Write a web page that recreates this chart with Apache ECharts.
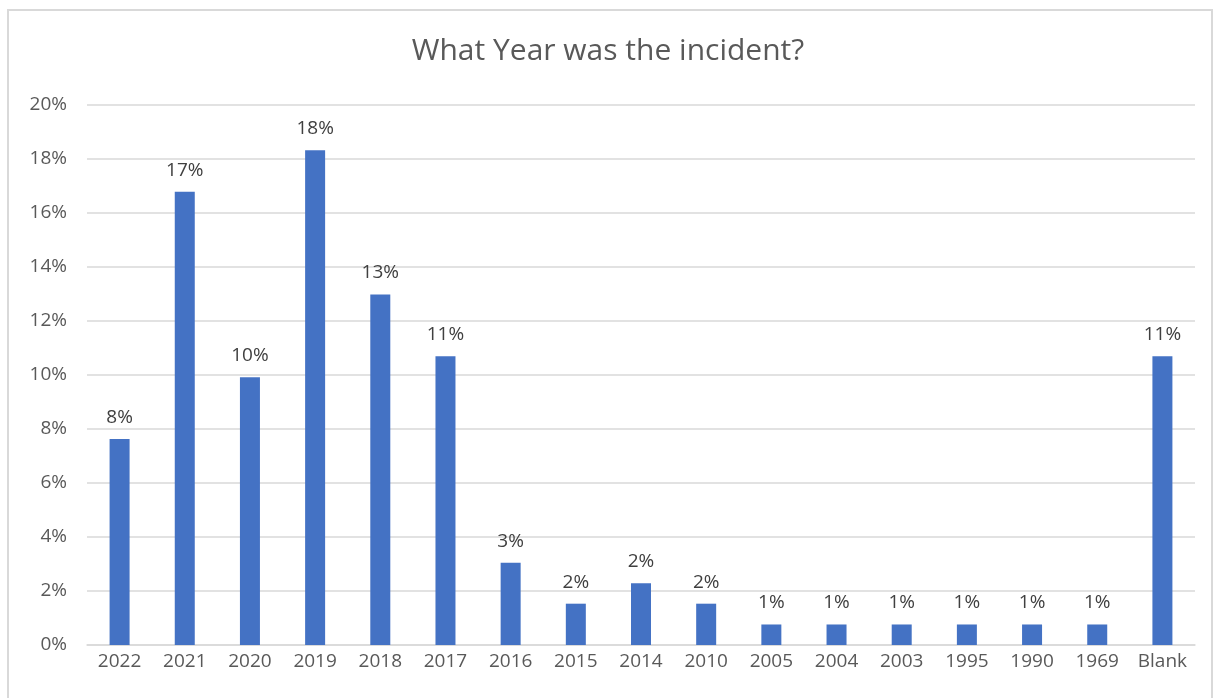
<!DOCTYPE html>
<html>
<head>
<meta charset="utf-8">
<script src="https://cdn.jsdelivr.net/npm/echarts@6/dist/echarts.min.js"></script>
<style>
html,body{margin:0;padding:0;background:#fff;}
#frame{position:absolute;left:7px;top:9px;width:1206px;height:700px;border:2px solid #d9d9d9;box-sizing:border-box;}
#chart{position:absolute;left:0;top:0;width:1216px;height:698px;}
</style>
</head>
<body>
<div id="frame"></div>
<div id="chart"></div>
<script>
const title = "What Year was the incident?";
const categories = ["2022","2021","2020","2019","2018","2017","2016","2015","2014","2010","2005","2004","2003","1995","1990","1969","Blank"];
const percentValues = [7.63, 16.79, 9.92, 18.32, 12.98, 10.69, 3.05, 1.53, 2.29, 1.53, 0.76, 0.76, 0.76, 0.76, 0.76, 0.76, 10.69];

const chart = echarts.init(document.getElementById('chart'), null, {renderer:'canvas'});
const font = "'Open Sans', 'Noto Sans', sans-serif";
chart.setOption({
  animation:false,
  backgroundColor:'transparent',
  title:{
    text:title, left:'center', top:31,
    textStyle:{fontFamily:font, fontSize:30, fontWeight:'normal', color:'#595959'}
  },
  grid:{left:87, right:21, top:105, bottom:53, containLabel:false},
  xAxis:{
    type:'category', data:categories,
    axisLine:{show:true, lineStyle:{color:'#d9d9d9', width:1.5}},
    axisTick:{show:false},
    axisLabel:{fontFamily:font, fontSize:19, color:'#595959', margin:7, interval:0}
  },
  yAxis:{
    type:'value', min:0, max:20, interval:2,
    axisLine:{show:false}, axisTick:{show:false},
    axisLabel:{fontFamily:font, fontSize:19, color:'#595959', margin:20, formatter:v=>v+'%'},
    splitLine:{lineStyle:{color:'#d9d9d9', width:1.5}}
  },
  series:[{
    type:'bar', data:percentValues, barWidth:20,
    itemStyle:{color:'#4472c4'},
    label:{show:true, position:'top', distance:12, fontFamily:font, fontSize:19, color:'#404040',
      formatter:p=>Math.round(p.value)+'%'}
  }]
});
</script>
</body>
</html>
